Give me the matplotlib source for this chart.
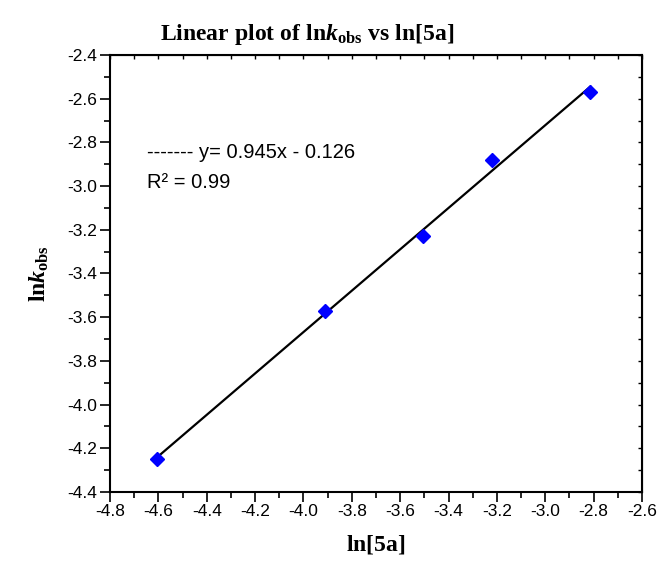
import numpy as np
import matplotlib
matplotlib.use("Agg")
import matplotlib.pyplot as plt
from matplotlib.ticker import MultipleLocator

# ln[5a] и ln k_obs
ln_conc = np.array([-4.605, -3.912, -3.507, -3.219, -2.813])
ln_kobs = np.array([-4.25, -3.57, -3.23, -2.88, -2.57])

eq_text = "------- y= 0.945x - 0.126"
r2_text = "R\u00b2 = 0.99"

plt.rcParams["font.family"] = "Liberation Sans"
plt.rcParams["mathtext.fontset"] = "custom"
plt.rcParams["mathtext.rm"] = "Liberation Serif:bold"
plt.rcParams["mathtext.bf"] = "Liberation Serif:bold"
plt.rcParams["mathtext.it"] = "Liberation Serif:italic:bold"

fig = plt.figure(figsize=(6.6, 5.64), dpi=100)
ax = fig.add_axes([0.1667, 0.1277, 0.8060, 0.7748])

# прямая по точкам
k, m = np.polyfit(ln_conc, ln_kobs, 1)
x_line = np.array([ln_conc.min(), ln_conc.max()])
ax.plot(x_line, k * x_line + m, c="black", lw=1.6, zorder=2)
ax.plot(ln_conc, ln_kobs, "D", ms=7, c="#0000ff", mec="#0000ff", zorder=3)

ax.set_xlim(-4.8, -2.6)
ax.set_ylim(-4.4, -2.4)
ax.xaxis.set_major_locator(MultipleLocator(0.2))
ax.xaxis.set_minor_locator(MultipleLocator(0.1))
ax.yaxis.set_major_locator(MultipleLocator(0.2))
ax.yaxis.set_minor_locator(MultipleLocator(0.1))
ax.xaxis.set_major_formatter(lambda v, p: f"{v:.1f}")
ax.yaxis.set_major_formatter(lambda v, p: f"{v:.1f}")
ax.tick_params(which="major", direction="out", length=7, width=1.2, labelsize=12.5, pad=2)
ax.tick_params(which="minor", direction="out", length=4, width=1.2)
for s in ax.spines.values():
    s.set_linewidth(1.5)

# зеркальные засечки сверху и справа
top = ax.secondary_xaxis("top")
top.xaxis.set_major_locator(MultipleLocator(0.2))
top.xaxis.set_minor_locator(MultipleLocator(0.1))
top.tick_params(which="both", direction="in", length=3, width=1, labeltop=False)
right = ax.secondary_yaxis("right")
right.yaxis.set_major_locator(MultipleLocator(0.2))
right.yaxis.set_minor_locator(MultipleLocator(0.1))
right.tick_params(which="both", direction="in", length=3, width=1, labelright=False)

ax.text(0.07, 0.765, eq_text, transform=ax.transAxes, fontsize=14.5, va="baseline")
ax.text(0.07, 0.695, r2_text, transform=ax.transAxes, fontsize=14.5, va="baseline")

ax.set_title(r"$\mathrm{Linear\ plot\ of\ ln}\mathit{k}_{\mathrm{obs}}\mathrm{\ vs\ ln[5a]}$",
             fontsize=17, pad=11, x=0.37)
ax.set_xlabel(r"$\mathrm{ln[5a]}$", fontsize=17, labelpad=10)
ax.set_ylabel(r"$\mathrm{ln}\mathit{k}_{\mathrm{obs}}$", fontsize=17, labelpad=12)

fig.savefig("out.png", dpi=100)
